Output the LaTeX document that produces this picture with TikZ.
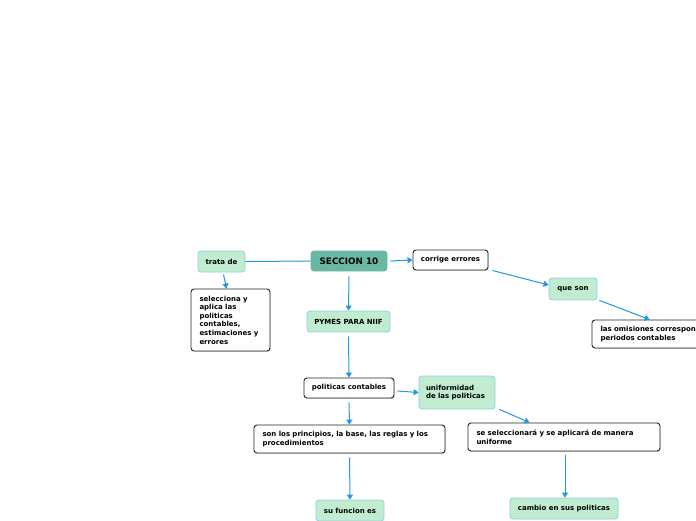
\documentclass[tikz,border=0pt]{standalone}
\usepackage{fontspec}
\setmainfont{DejaVu Sans}
\usetikzlibrary{arrows.meta,calc,shadows}
\definecolor{lgreen}{RGB}{194,236,208}
\definecolor{gborder}{RGB}{140,210,225}
\definecolor{tealc}{RGB}{106,184,164}
\definecolor{ablue}{RGB}{35,152,222}
\begin{document}
\begin{tikzpicture}[x=1pt,y=-1pt,
  font=\bfseries\fontsize{7}{8.6}\selectfont,
  gbox/.style={draw=gborder, fill=lgreen, rounded corners=3pt, line width=0.8pt, inner sep=0pt, align=center},
  wbox/.style={draw=black!85, fill=white, rounded corners=3pt, line width=0.9pt, inner sep=0pt, align=center,
    drop shadow={shadow xshift=0.7pt, shadow yshift=-0.9pt, opacity=0.35}},
  lbox/.style={align=left, inner xsep=8.5pt, inner ysep=0pt},
  link/.style={draw=ablue, line width=1pt},
  arr/.style={link, -{Triangle[length=5pt,width=6pt]}}
]
\clip (0,0) rectangle (696,520);
\useasboundingbox (0,0) rectangle (696,520);
\fill[white] (0,0) rectangle (696,520);

\node[gbox, minimum width=47pt, minimum height=21pt] (trata) at (221.5,261.5) {trata de};
\node[gbox, draw=tealc, fill=tealc, minimum width=76pt, minimum height=20pt, font=\bfseries\fontsize{8.8}{10}\selectfont] (sec) at (349,261) {SECCION 10};
\node[wbox, minimum width=75pt, minimum height=20pt] (corr) at (450.5,260) {corrige errores};
\node[gbox, minimum width=48pt, minimum height=22pt] (que) at (573,289) {que son};
\node[wbox, lbox, minimum width=170pt, minimum height=28pt, text width=153pt] (omis) at (677,334) {las omisiones correspondientes a\\periodos contables};
\node[wbox, lbox, minimum width=79pt, minimum height=62pt, text width=62pt] (sel) at (230.5,320) {selecciona y\\aplica las\\politicas\\contables,\\estimaciones y\\errores};
\node[gbox, minimum width=83pt, minimum height=21pt] (pymes) at (348.5,321.5) {PYMES PARA NIIF};
\node[wbox, minimum width=90pt, minimum height=20pt] (polc) at (349,388) {politicas contables};
\node[gbox, align=left, inner xsep=7pt, minimum width=76pt, minimum height=33pt, text width=62pt] (unif) at (457,392.5) {uniformidad\\de las politicas};
\node[wbox, lbox, minimum width=191pt, minimum height=28pt, text width=174pt] (son) at (349.5,439) {son los principios, la base, las reglas y los\\procedimientos};
\node[wbox, lbox, minimum width=192pt, minimum height=28pt, text width=175pt] (sese) at (564,437) {se seleccionará y se aplicará de manera\\uniforme};
\node[gbox, minimum width=68pt, minimum height=21pt] (su) at (350,510.5) {su funcion es};
\node[gbox, minimum width=108pt, minimum height=21pt] (camb) at (564,508.5) {cambio en sus politicas};

\draw[link] (trata.east) -- (sec.west);
\draw[arr] ($(trata.south)+(2,2)$) -- ($(sel.north)+(-4,0)$);
\draw[arr] ($(sec.east)+(3,0)$) -- (corr.west);
\draw[arr] ($(corr.south east)+(4,0)$) -- ($(que.west)+(0,-4)$);
\draw[arr] ($(que.south east)+(2,0)$) -- ($(omis.north west)+(58,0)$);
\draw[arr] ($(sec.south)+(0,5)$) -- (pymes.north);
\draw[arr] ($(pymes.south)+(0,4)$) -- (polc.north);
\draw[arr] ($(polc.east)+(3,3)$) -- (unif.west);
\draw[arr] ($(polc.south)+(0,4)$) -- (son.north);
\draw[arr] ($(unif.south east)+(4,0)$) -- ($(sese.north west)+(62,0)$);
\draw[arr] ($(son.south)+(0,4)$) -- (su.north);
\draw[arr] ($(sese.south)+(1,4)$) -- ($(camb.north)+(1,0)$);
\end{tikzpicture}
\end{document}
